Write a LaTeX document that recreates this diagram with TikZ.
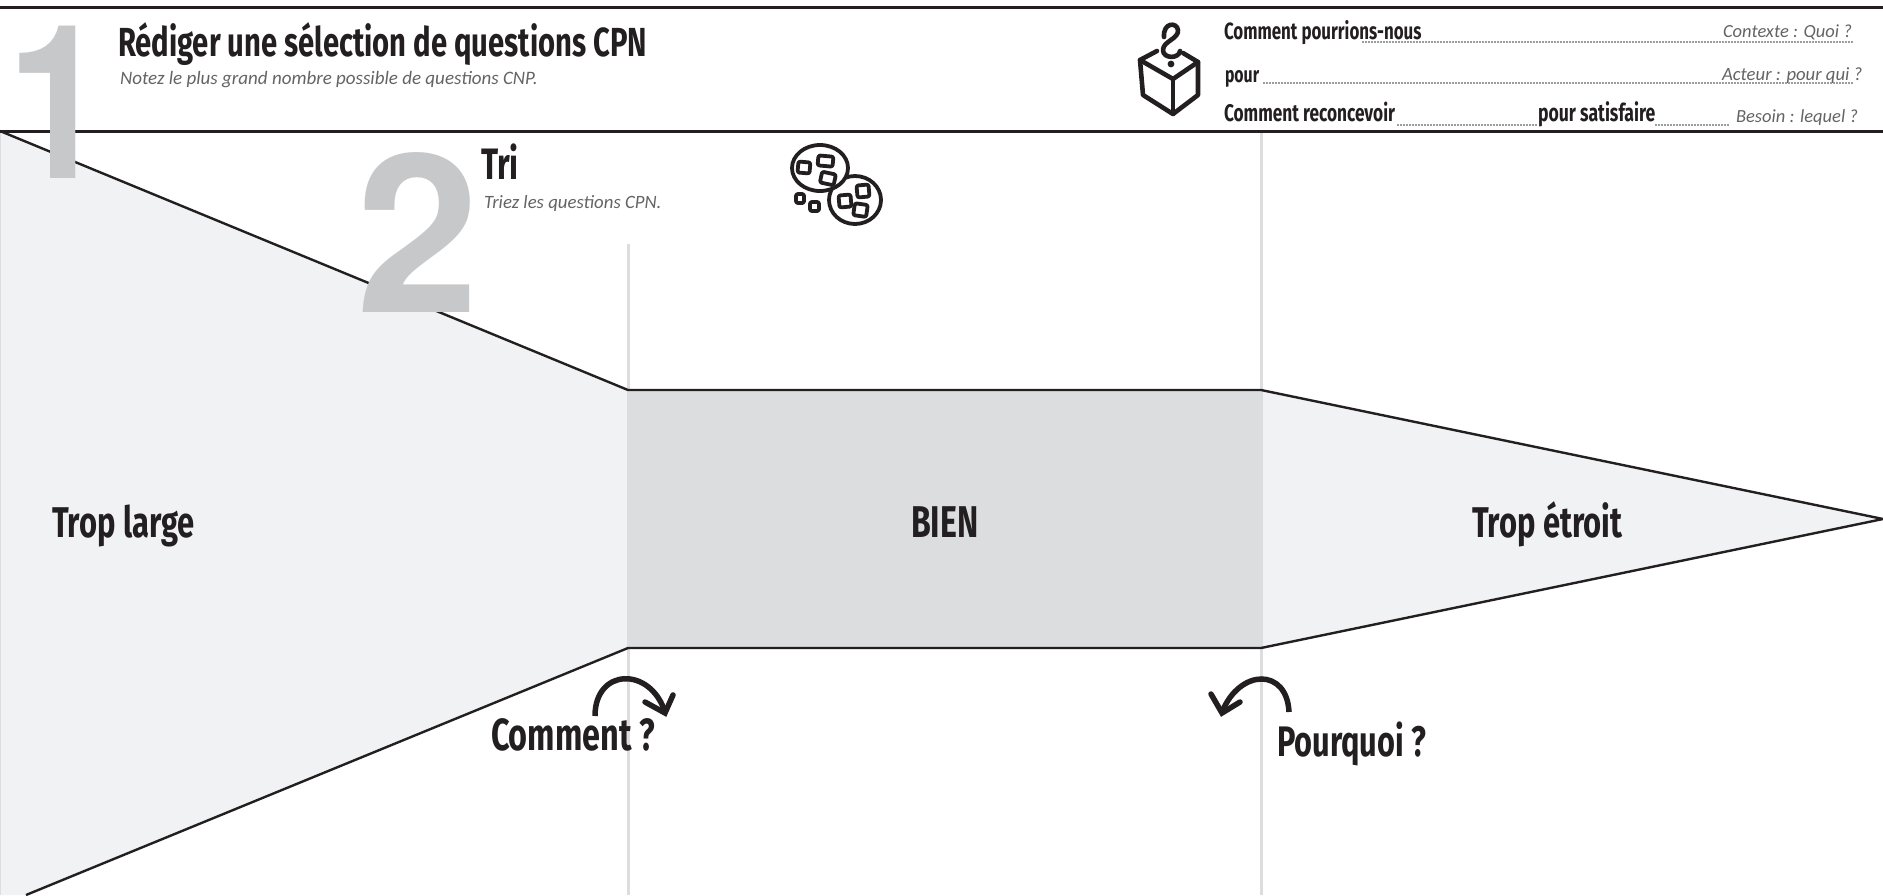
\documentclass[tikz,border=0pt]{standalone}
\usepackage{fontspec}
\setmainfont{Carlito}
\newfontfamily\handf{Fira Sans}[FakeStretch=0.72,BoldFont={Fira Sans Bold}]
\newfontfamily\numf{TeX Gyre Heros}
\definecolor{ink}{HTML}{231F20}
\definecolor{lightfill}{HTML}{F1F2F4}
\definecolor{midfill}{HTML}{DCDDDF}
\definecolor{guide}{HTML}{DCDDDE}
\definecolor{numgrey}{HTML}{C7C8CA}
\definecolor{notegrey}{HTML}{636466}
\definecolor{dotgrey}{HTML}{9A9C9E}
\tikzset{
  x=1pt,y=-1pt,
  txt/.style={inner sep=0pt,outer sep=0pt,anchor=base west},
  hand/.style={txt,text=ink,font=\handf\bfseries\fontsize{#1}{#1}\selectfont},
  note/.style={txt,text=notegrey,font=\itshape\fontsize{#1}{#1}\selectfont},
  bignum/.style={inner sep=0pt,outer sep=0pt,anchor=base west,text=numgrey,font=\numf\bfseries\fontsize{#1}{#1}\selectfont},
  edgeline/.style={draw=ink,line width=2.4pt},
  rule/.style={draw=ink,line width=3pt},
  guideline/.style={draw=guide,line width=3pt},
  dotline/.style={draw=dotgrey,line width=1.6pt,dash pattern=on 1.6pt off 1.4pt},
  sketch/.style={draw=ink,line width=4.6pt,line cap=round,line join=round},
  turn/.style={draw=ink,line width=5.5pt,line join=miter},
  seed/.style={draw=ink,line width=3.8pt,rounded corners=2pt,line join=round}
}
\begin{document}
\begin{tikzpicture}
\useasboundingbox (0,0) rectangle (1883,895);
% key points
\coordinate (tl) at (0,131);
\coordinate (a) at (628,390);
\coordinate (b) at (1261,390);
\coordinate (tip) at (1883,519);
\coordinate (c) at (1261,648);
\coordinate (d) at (628,648);
\coordinate (bl) at (26,895);
% fills
\fill[lightfill] (tl) -- (a) -- (d) -- (bl) -- (0,895) -- cycle;
\fill[midfill] (a) -- (b) -- (c) -- (d) -- cycle;
\fill[lightfill] (b) -- (tip) -- (c) -- cycle;
% guides
\draw[guideline] (628,244) -- (628,895);
\draw[guideline] (1261,131) -- (1261,895);
\draw[draw=guide,line width=1.4pt] (0.4,131) -- (0.4,895);
% outline
\draw[edgeline,line join=round] (bl) -- (d) -- (c) -- (tip) -- (b) -- (a) -- (tl);
\draw[rule] (0,7) -- (1883,7);
\draw[rule] (0,131) -- (1883,131);
% big numerals
\node[bignum=215,xscale=0.84,transform shape] (n1) at (8,178) {1};
\node[bignum=221,transform shape] (n2) at (356,312) {2};
% header left
\node[hand=40.6] (title) at (118,56) {Rédiger une sélection de questions CPN};
\node[note=19] (sub1) at (120,84) {Notez le plus grand nombre possible de questions CNP.};
\node[hand=44] (tri) at (481,179) {Tri};
\node[note=18.8] (sub2) at (484,208) {Triez les questions CPN.};
% header right
\node[hand=23.5] (q1) at (1224,39) {Comment pourrions-nous};
\node[hand=22] (q2) at (1225,82) {pour};
\node[hand=24] (q3) at (1224,121) {Comment reconcevoir};
\node[hand=24.5] (q4) at (1538,121) {pour satisfaire};
\node[note=18.5] (h1) at (1723,37) {Contexte : Quoi ?};
\node[note=18.7] (h2) at (1722,80) {Acteur : pour qui ?};
\node[note=18.5] (h3) at (1736,122) {Besoin : lequel ?};
\draw[dotline] (1362,42) -- (1853,42);
\draw[dotline] (1263,83) -- (1853,83);
\draw[dotline] (1397,125) -- (1537,125);
\draw[dotline] (1655,125) -- (1729,125);
% zone labels
\node[hand=43] (large) at (52,537) {Trop large};
\node[hand=44.5] (bien) at (911,537) {BIEN};
\node[hand=43] (etroit) at (1472,537) {Trop étroit};
\node[hand=45] (comment) at (491,750) {Comment ?};
\node[hand=42.7] (pourquoi) at (1277,756) {Pourquoi ?};
% turn arrows
\draw[turn] (595,716) .. controls (595,668) and (650,666) .. (665,712);
\draw[turn,line cap=round] (673,695) -- (665,713) -- (645,702);
\draw[turn] (1289,712) .. controls (1287,668) and (1240,668) .. (1222,712);
\draw[turn,line cap=round] (1211,694) -- (1222,713) -- (1240,702);
% cube icon
\draw[sketch] (1157,51) -- (1140,60) -- (1173,79) -- (1198,62) -- (1183,53);
\draw[sketch] (1140,60) -- (1143,95) -- (1173,114) -- (1198,95) -- (1198,62);
\draw[sketch] (1173,79) -- (1173,114);
\draw[sketch] (1180,51) .. controls (1179,59) and (1163,59) .. (1163,50) .. controls (1163,41) and (1179,39) .. (1178,30) .. controls (1177,22) and (1163,22) .. (1164,37);
\fill[ink] (1171,64) circle (3.4pt);
% cookie icon
\draw[seed,fill=white] (855,200) ellipse (26 and 24);
\draw[seed,fill=white] (820,168) ellipse (28 and 23);
\draw[seed,rotate around={-5:(804,167)}] (798,162) rectangle (810,173);
\draw[seed,rotate around={-5:(825,161)}] (818,156) rectangle (833,166);
\draw[seed,rotate around={-12:(828,178)}] (821,173) rectangle (835,184);
\draw[seed,rotate around={5:(845,201)}] (839,195) rectangle (851,207);
\draw[seed,rotate around={5:(863,191)}] (857,185) rectangle (869,197);
\draw[seed,rotate around={-8:(860,210)}] (854,204) rectangle (867,216);
\draw[seed] (796,194) rectangle (804,203);
\draw[seed] (810,202) rectangle (819,211);
\end{tikzpicture}
\end{document}
